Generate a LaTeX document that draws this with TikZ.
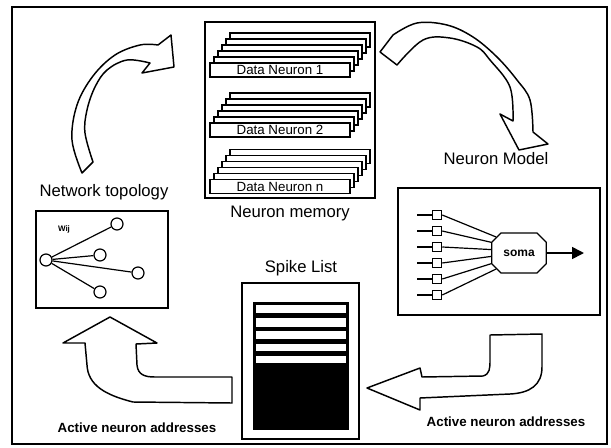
\documentclass[tikz,border=0pt]{standalone}
\usepackage{fontspec}
\setmainfont{Liberation Sans}
\usetikzlibrary{shapes.misc}
\usetikzlibrary{arrows.meta}
\tikzset{
    panel/.style={draw=black, line width=1.1pt, fill=white, inner sep=0pt, outer sep=0pt},
    card/.style={draw=black, line width=0.9pt, fill=white},
    caption/.style={font=\fontsize{12.5}{14}\selectfont},
    note/.style={font=\fontsize{10}{12}\selectfont\bfseries},
    bigarrow/.style={draw=black, line width=1.1pt, fill=white, line join=round},
    neuron/.style={circle, draw=black, line width=0.9pt, fill=white, minimum size=9pt, inner sep=0pt},
    synapse/.style={rectangle, draw=black, line width=0.9pt, fill=white, minimum size=7pt, inner sep=0pt},
    wire/.style={draw=black, line width=0.9pt}
}
\begin{document}
\begin{tikzpicture}[x=0.75pt, y=-0.75pt]
\useasboundingbox (0,0) rectangle (611,447);
\draw[line width=1pt] (12,7) rectangle (607,444);

\node[panel, minimum width=127.5pt, minimum height=132pt] (memory) at (290,110) {};
\foreach \y/\n in {70/1, 130/2, 186.5/n} {
  \foreach \k in {5,...,1}
    \draw[card] (210+4*\k, \y-7-6*\k) rectangle (350+4*\k, \y+7-6*\k);
  \node[card, minimum width=105pt, minimum height=10.5pt, inner sep=0pt,
        font=\fontsize{10}{10}\selectfont] (dn\n) at (280,\y) {Data Neuron \n};
}
\node[caption] (memlabel) at (290,213) {Neuron memory};

\node[caption] (toplabel) at (104,192) {Network topology};
\node[panel, minimum width=99pt, minimum height=72.75pt] (topo) at (102,259.5) {};
\node[neuron] (src) at (46,260) {};
\node[neuron] (t1) at (117,224) {};
\node[neuron] (t2) at (100,255) {};
\node[neuron] (t3) at (138,273) {};
\node[neuron] (t4) at (100,292) {};
\foreach \t in {t1,t2,t3,t4}
  \draw[wire] (src) -- (\t);
\node[font=\fontsize{6}{6}\selectfont\bfseries] (wlabel) at (64,229) {Wij};

\node[caption] (modlabel) at (496,159) {Neuron Model};
\node[panel, minimum width=151.5pt, minimum height=95.25pt] (model) at (499,251.5) {};
\node[chamfered rectangle, draw=black, line width=0.9pt, fill=white,
      minimum width=41pt, minimum height=30pt, inner sep=1pt,
      font=\fontsize{9}{9}\selectfont\bfseries] (soma) at (519,253) {soma};
\foreach \i/\a in {1/145, 2/159, 3/173, 4/187, 5/201, 6/215} {
  \node[synapse] (sq\i) at (437, 199+16*\i) {};
  \coordinate (in\i) at (417, 199+16*\i);
  \draw[wire] (in\i) -- (sq\i);
  \draw[wire] (sq\i.east) -- (soma.\a);
}
\coordinate (out) at (584,253);
\draw[wire, line width=1.2pt, -{Triangle[length=9pt, width=9pt]}] (soma) -- (out);

\node[caption] (spikelabel) at (301,268) {Spike List};
\node[panel, minimum width=87.75pt, minimum height=117pt] (spikes) at (300.5,361) {};
\node[fill=black, minimum width=72pt, minimum height=96pt, inner sep=0pt] (queue) at (301,366) {};
\foreach \a/\b in {305/313, 318/327, 331/339, 344/351, 356/363}
  \fill[white] (256,\a) rectangle (346,\b);

\draw[bigarrow] plot[smooth, tension=0.6] coordinates {(82,173) (72,140) (77,105) (93,76) (115,55) (140,45) (158,45)}
  -- (171,35) -- (174,67) -- (142,73) -- (150,63)
  -- plot[smooth, tension=0.6] coordinates {(150,63) (127,60) (107,70) (95,87) (87,110) (85,133) (93,162)} -- cycle;

\draw[bigarrow] (380,52) -- (393,35)
  -- plot[smooth, tension=0.6] coordinates {(393,35) (417,23) (447,25) (473,37) (497,57) (517,80) (530,100) (533,132)}
  -- (548,144) -- (519,150) -- (500,114) -- (513,121)
  -- plot[smooth, tension=0.6] coordinates {(513,121) (510,87) (490,60) (477,47) (450,38) (423,40) (397,65)} -- cycle;

\draw[bigarrow] (110,317) -- (157,343) -- (136,344) -- (137,365)
  .. controls (138,375) and (145,377) .. (155,377) -- (232,377) -- (232,403) -- (133,402)
  .. controls (105,395) and (88,385) .. (87,365) -- (85,343) -- (63,343) -- cycle;

\draw[bigarrow] (367,388) -- (420,368) -- (422,377) -- (483,376)
  .. controls (490,374) and (490,368) .. (490,360) -- (490,335) -- (542,334) -- (542,367)
  .. controls (542,385) and (530,393) .. (510,394) -- (420,398) -- (420,410) -- cycle;

\node[note] (addrleft) at (137,428) {Active neuron addresses};
\node[note] (addrright) at (506,422) {Active neuron addresses};
\end{tikzpicture}
\end{document}
